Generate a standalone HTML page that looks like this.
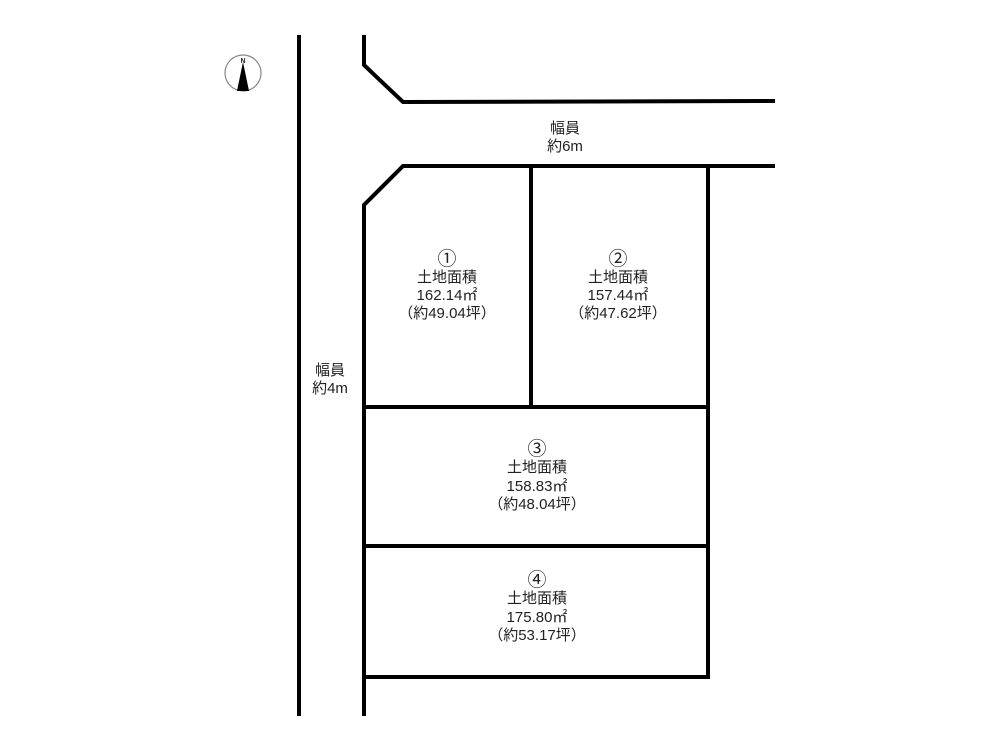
<!DOCTYPE html>
<html><head><meta charset="utf-8"><style>
body{margin:0;background:#fff}
svg text{font-family:"Liberation Sans","Noto Sans CJK JP",sans-serif;font-size:15px;fill:#222;text-anchor:middle}
svg text.c{font-size:19px}
</style></head><body>
<svg width="1000" height="750" viewBox="0 0 1000 750">
<g stroke="#000" stroke-width="4" fill="none" stroke-linejoin="miter">
<line x1="299" y1="35" x2="299" y2="716"/>
<polyline points="364,35 364,65 403,102 775,101"/>
<polyline points="775,166 403,166 364,205 364,716"/>
<line x1="708" y1="166" x2="708" y2="679"/>
<line x1="531" y1="166" x2="531" y2="407"/>
<line x1="364" y1="407" x2="708" y2="407"/>
<line x1="364" y1="546" x2="708" y2="546"/>
<line x1="364" y1="677" x2="710" y2="677"/>
</g>
<circle cx="243" cy="73" r="18" fill="none" stroke="#888" stroke-width="1.2"/>
<polygon points="243,62 237,91 249,91" fill="#000"/>
<text x="243" y="63" style="font-size:7px;font-weight:bold">N</text>
<text x="565" y="133">幅員</text><text x="565" y="151">約6m</text>
<text x="330" y="375">幅員</text><text x="330" y="393">約4m</text>
<text class="c" x="447" y="265">①</text><text x="447" y="282">土地面積</text><text x="447" y="300">162.14㎡</text><text x="447" y="318">（約49.04坪）</text>
<text class="c" x="618" y="265">②</text><text x="618" y="282">土地面積</text><text x="618" y="300">157.44㎡</text><text x="618" y="318">（約47.62坪）</text>
<text class="c" x="537" y="455">③</text><text x="537" y="472">土地面積</text><text x="537" y="491">158.83㎡</text><text x="537" y="509">（約48.04坪）</text>
<text class="c" x="537" y="586">④</text><text x="537" y="603">土地面積</text><text x="537" y="622">175.80㎡</text><text x="537" y="640">（約53.17坪）</text>
</svg>
</body></html>
